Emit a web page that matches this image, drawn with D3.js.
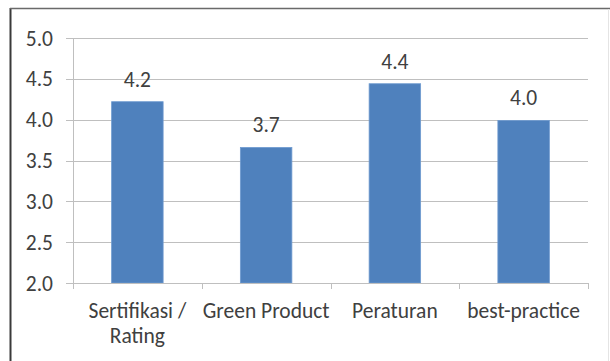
<!DOCTYPE html>
<html>
<head>
<meta charset="utf-8">
<script src="https://cdn.jsdelivr.net/npm/d3@7"></script>
<style>
  html, body { margin: 0; padding: 0; background: #fff; }
  svg { display: block; }
  text { font-family: Carlito, Lato, "Open Sans", sans-serif; fill: #404040; }
</style>
</head>
<body>
<svg id="chart" width="610" height="361"></svg>
<script>
// Category names (each inner array is one wrapped label)
const categories = ["Sertifikasi / Rating", "Green Product", "Peraturan", "best-practice"];
const categoryLines = [["Sertifikasi /", "Rating"], ["Green Product"], ["Peraturan"], ["best-practice"]];
// Mean score per category
const scores = [4.22, 3.66, 4.44, 3.99];
// Value-axis ticks
const yTicks = [2.0, 2.5, 3.0, 3.5, 4.0, 4.5, 5.0];

const svg = d3.select("#chart");
const W = 610, H = 361;
const FONT = 21.5;

// Outer frame
svg.append("line").attr("x1", 10.5).attr("x2", 10.5).attr("y1", 8).attr("y2", H)
  .attr("stroke", "#3a3a3a").attr("stroke-width", 2);
svg.append("line").attr("x1", 10).attr("x2", W).attr("y1", 8.5).attr("y2", 8.5)
  .attr("stroke", "#6a6a6a").attr("stroke-width", 1.5);
svg.append("line").attr("x1", 608.5).attr("x2", 608.5).attr("y1", 9).attr("y2", H)
  .attr("stroke", "#e4e4e4").attr("stroke-width", 1);

const plot = { left: 73, right: 588, top: 38, bottom: 283 };

const x = d3.scaleBand().domain(categories).range([plot.left, plot.right])
  .paddingInner(0.6).paddingOuter(0.3);
const xOuter = d3.scaleBand().domain(categories).range([plot.left, plot.right]);
const y = d3.scaleLinear().domain([2, 5]).range([plot.bottom, plot.top]);

// Gridlines
svg.append("g").selectAll("line").data(yTicks).join("line")
  .attr("x1", plot.left - 7).attr("x2", plot.right)
  .attr("y1", d => Math.round(y(d)) + 0.5).attr("y2", d => Math.round(y(d)) + 0.5)
  .attr("stroke", "#bfbfbf").attr("stroke-width", 1);

// Y axis line
svg.append("line").attr("x1", plot.left + 0.5).attr("x2", plot.left + 0.5)
  .attr("y1", plot.top).attr("y2", plot.bottom + 0.5)
  .attr("stroke", "#bfbfbf");

// Y tick labels
svg.append("g").selectAll("text").data(yTicks).join("text")
  .attr("x", 53).attr("y", d => y(d)).attr("dy", "0.35em")
  .attr("text-anchor", "end").attr("font-size", FONT)
  .text(d3.format(".1f"));

// Bars
svg.append("g").selectAll("rect").data(scores).join("rect")
  .attr("x", (d, i) => x(categories[i]))
  .attr("width", x.bandwidth())
  .attr("y", d => y(d))
  .attr("height", d => y(2) - y(d))
  .attr("fill", "#4f81bd")
  .attr("stroke", "#6f9bd0").attr("stroke-width", 0.8);

// X axis line and ticks at category boundaries
svg.append("line").attr("x1", plot.left).attr("x2", plot.right)
  .attr("y1", plot.bottom + 0.5).attr("y2", plot.bottom + 0.5).attr("stroke", "#bfbfbf");
const boundaries = categories.map(c => xOuter(c)).concat([plot.right]);
svg.append("g").selectAll("line").data(boundaries).join("line")
  .attr("x1", d => Math.round(d) + 0.5).attr("x2", d => Math.round(d) + 0.5)
  .attr("y1", plot.bottom).attr("y2", plot.bottom + 6)
  .attr("stroke", "#bfbfbf");

// Value labels
svg.append("g").selectAll("text").data(scores).join("text")
  .attr("x", (d, i) => x(categories[i]) + x.bandwidth() / 2)
  .attr("y", d => y(d) - 15)
  .attr("text-anchor", "middle").attr("font-size", FONT)
  .text(d3.format(".1f"));

// Category labels
const catG = svg.append("g").selectAll("text").data(categories).join("text")
  .attr("text-anchor", "middle").attr("font-size", FONT);
catG.each(function(c, i) {
  const t = d3.select(this);
  categoryLines[i].forEach((line, j) => {
    t.append("tspan")
      .attr("x", x(c) + x.bandwidth() / 2)
      .attr("y", 318 + j * 25)
      .text(line);
  });
});
</script>
</body>
</html>
